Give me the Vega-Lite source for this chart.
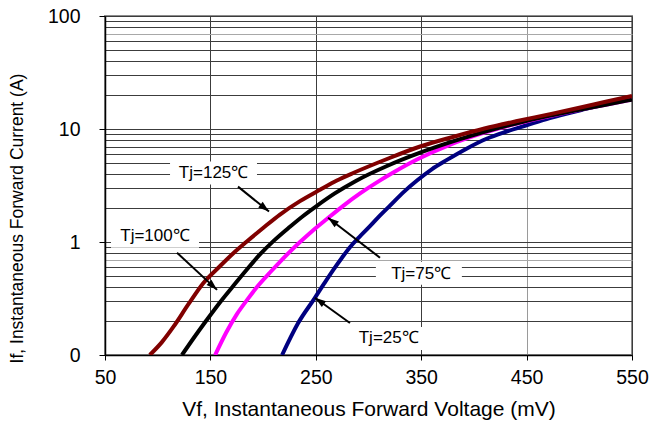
{
  "$schema": "https://vega.github.io/schema/vega-lite/v6.json",
  "width": 527,
  "height": 339,
  "autosize": "none",
  "padding": {"left": 105, "top": 16, "right": 18, "bottom": 78},
  "background": "white",
  "config": {
    "font": "Arial",
    "view": {"stroke": "#8c8c8c", "strokeWidth": 2},
    "axis": {"labelFont": "Arial", "titleFont": "Arial", "labelColor": "black", "titleColor": "black", "titleFontWeight": "normal"}
  },
  "datasets": {
    "curves": [
      {"series": "Tj=25℃", "vf": 218, "cur": 0.1},
      {"series": "Tj=25℃", "vf": 233, "cur": 0.19},
      {"series": "Tj=25℃", "vf": 249, "cur": 0.319},
      {"series": "Tj=25℃", "vf": 258, "cur": 0.43},
      {"series": "Tj=25℃", "vf": 266.6, "cur": 0.567},
      {"series": "Tj=25℃", "vf": 275, "cur": 0.73},
      {"series": "Tj=25℃", "vf": 282.4, "cur": 0.9},
      {"series": "Tj=25℃", "vf": 291, "cur": 1.1},
      {"series": "Tj=25℃", "vf": 301.4, "cur": 1.38},
      {"series": "Tj=25℃", "vf": 311, "cur": 1.72},
      {"series": "Tj=25℃", "vf": 320.4, "cur": 2.1},
      {"series": "Tj=25℃", "vf": 333, "cur": 2.75},
      {"series": "Tj=25℃", "vf": 346, "cur": 3.5},
      {"series": "Tj=25℃", "vf": 360, "cur": 4.4},
      {"series": "Tj=25℃", "vf": 374, "cur": 5.3},
      {"series": "Tj=25℃", "vf": 393, "cur": 6.7},
      {"series": "Tj=25℃", "vf": 412, "cur": 8.2},
      {"series": "Tj=25℃", "vf": 431, "cur": 9.5},
      {"series": "Tj=25℃", "vf": 450, "cur": 10.8},
      {"series": "Tj=25℃", "vf": 472, "cur": 12.5},
      {"series": "Tj=25℃", "vf": 504, "cur": 14.9},
      {"series": "Tj=25℃", "vf": 527, "cur": 16.7},
      {"series": "Tj=25℃", "vf": 550, "cur": 18.5},
      {"series": "Tj=75℃", "vf": 154.5, "cur": 0.1},
      {"series": "Tj=75℃", "vf": 165, "cur": 0.158},
      {"series": "Tj=75℃", "vf": 175, "cur": 0.229},
      {"series": "Tj=75℃", "vf": 185, "cur": 0.309},
      {"series": "Tj=75℃", "vf": 194, "cur": 0.398},
      {"series": "Tj=75℃", "vf": 206.5, "cur": 0.537},
      {"series": "Tj=75℃", "vf": 216, "cur": 0.668},
      {"series": "Tj=75℃", "vf": 225.5, "cur": 0.822},
      {"series": "Tj=75℃", "vf": 235, "cur": 1.0},
      {"series": "Tj=75℃", "vf": 247, "cur": 1.26},
      {"series": "Tj=75℃", "vf": 260.5, "cur": 1.6},
      {"series": "Tj=75℃", "vf": 276, "cur": 2.09},
      {"series": "Tj=75℃", "vf": 292, "cur": 2.69},
      {"series": "Tj=75℃", "vf": 311, "cur": 3.51},
      {"series": "Tj=75℃", "vf": 323.5, "cur": 4.12},
      {"series": "Tj=75℃", "vf": 346, "cur": 5.37},
      {"series": "Tj=75℃", "vf": 377, "cur": 7.24},
      {"series": "Tj=75℃", "vf": 409, "cur": 9.23},
      {"series": "Tj=75℃", "vf": 440, "cur": 11.1},
      {"series": "Tj=75℃", "vf": 470, "cur": 12.9},
      {"series": "Tj=75℃", "vf": 500, "cur": 14.8},
      {"series": "Tj=75℃", "vf": 525, "cur": 16.4},
      {"series": "Tj=75℃", "vf": 550, "cur": 18.2},
      {"series": "Tj=100℃", "vf": 123, "cur": 0.1},
      {"series": "Tj=100℃", "vf": 135, "cur": 0.145},
      {"series": "Tj=100℃", "vf": 146.5, "cur": 0.204},
      {"series": "Tj=100℃", "vf": 159, "cur": 0.292},
      {"series": "Tj=100℃", "vf": 172, "cur": 0.412},
      {"series": "Tj=100℃", "vf": 184, "cur": 0.562},
      {"series": "Tj=100℃", "vf": 197, "cur": 0.776},
      {"series": "Tj=100℃", "vf": 210, "cur": 1.023},
      {"series": "Tj=100℃", "vf": 225.5, "cur": 1.365},
      {"series": "Tj=100℃", "vf": 238, "cur": 1.7},
      {"series": "Tj=100℃", "vf": 251, "cur": 2.09},
      {"series": "Tj=100℃", "vf": 268, "cur": 2.69},
      {"series": "Tj=100℃", "vf": 288, "cur": 3.47},
      {"series": "Tj=100℃", "vf": 317, "cur": 4.68},
      {"series": "Tj=100℃", "vf": 349, "cur": 6.17},
      {"series": "Tj=100℃", "vf": 380, "cur": 7.76},
      {"series": "Tj=100℃", "vf": 410, "cur": 9.44},
      {"series": "Tj=100℃", "vf": 440, "cur": 11.2},
      {"series": "Tj=100℃", "vf": 470, "cur": 13.0},
      {"series": "Tj=100℃", "vf": 500, "cur": 14.8},
      {"series": "Tj=100℃", "vf": 525, "cur": 16.4},
      {"series": "Tj=100℃", "vf": 550, "cur": 18.2},
      {"series": "Tj=125℃", "vf": 92.5, "cur": 0.1},
      {"series": "Tj=125℃", "vf": 104, "cur": 0.13},
      {"series": "Tj=125℃", "vf": 115, "cur": 0.178},
      {"series": "Tj=125℃", "vf": 129, "cur": 0.28},
      {"series": "Tj=125℃", "vf": 143, "cur": 0.43},
      {"series": "Tj=125℃", "vf": 159, "cur": 0.61},
      {"series": "Tj=125℃", "vf": 172, "cur": 0.8},
      {"series": "Tj=125℃", "vf": 184, "cur": 1.0},
      {"series": "Tj=125℃", "vf": 200, "cur": 1.33},
      {"series": "Tj=125℃", "vf": 216, "cur": 1.75},
      {"series": "Tj=125℃", "vf": 235, "cur": 2.3},
      {"series": "Tj=125℃", "vf": 254, "cur": 2.9},
      {"series": "Tj=125℃", "vf": 270, "cur": 3.5},
      {"series": "Tj=125℃", "vf": 286, "cur": 4.1},
      {"series": "Tj=125℃", "vf": 317, "cur": 5.4},
      {"series": "Tj=125℃", "vf": 349, "cur": 7.0},
      {"series": "Tj=125℃", "vf": 380, "cur": 8.5},
      {"series": "Tj=125℃", "vf": 410, "cur": 10.1},
      {"series": "Tj=125℃", "vf": 440, "cur": 11.7},
      {"series": "Tj=125℃", "vf": 470, "cur": 13.4},
      {"series": "Tj=125℃", "vf": 500, "cur": 15.4},
      {"series": "Tj=125℃", "vf": 525, "cur": 17.4},
      {"series": "Tj=125℃", "vf": 550, "cur": 19.6}
    ],
    "labels": [
      {"label": "Tj=125℃", "lv": 153, "li": 4.09, "bx1": 111.7, "bx2": 194.2, "by1": 3.22, "by2": 5.16, "tv": 176.2, "ti": 3.09, "hv": 205.6, "hi": 1.86},
      {"label": "Tj=100℃", "lv": 97.4, "li": 1.12, "bx1": 55.7, "bx2": 139.2, "by1": 0.89, "by2": 1.395, "tv": 118.3, "ti": 0.804, "hv": 156.3, "hi": 0.377},
      {"label": "Tj=75℃", "lv": 350, "li": 0.524, "bx1": 307, "bx2": 388.6, "by1": 0.418, "by2": 0.668, "tv": 310.9, "ti": 0.726, "hv": 261.6, "hi": 1.64},
      {"label": "Tj=25℃", "lv": 319.2, "li": 0.141, "bx1": 282.4, "bx2": 356.4, "by1": 0.111, "by2": 0.177, "tv": 282.4, "ti": 0.192, "hv": 249.2, "hi": 0.321}
    ]
  },
  "layer": [
    {
      "data": {"name": "labels"},
      "mark": {"type": "rect", "fill": "white"},
      "encoding": {
        "x": {
          "field": "bx1", "type": "quantitative",
          "scale": {"domain": [50, 550], "nice": false, "zero": false},
          "axis": {
            "values": [50, 150, 250, 350, 450, 550],
            "title": "Vf, Instantaneous Forward  Voltage (mV)",
            "titleFontSize": 21,
            "titlePadding": 12,
            "labelFontSize": 19.5,
            "labelPadding": 8,
            "tickSize": 5,
            "tickColor": "black",
            "domainColor": "black",
            "domainWidth": 1.5,
            "grid": true,
            "gridColor": {"condition": {"test": "datum.value == 450", "value": "#9a9a9a"}, "value": "#3c3c3c"},
            "gridWidth": 1,
            "labelFlush": false,
            "labelOverlap": false
          }
        },
        "x2": {"field": "bx2"},
        "y": {
          "field": "by1", "type": "quantitative",
          "scale": {"type": "log", "domain": [0.1, 100], "nice": false},
          "axis": {
            "values": [0.1, 0.2, 0.3, 0.4, 0.5, 0.6, 0.7, 0.8, 0.9, 1, 2, 3, 4, 5, 6, 7, 8, 9, 10, 20, 30, 40, 50, 60, 70, 80, 90, 100],
            "labelExpr": "datum.value == 0.1 ? '0' : datum.value == 1 ? '1' : datum.value == 10 ? '10' : datum.value == 100 ? '100' : ''",
            "labelFontSize": 19.5,
            "labelPadding": 19,
            "labelOverlap": false,
            "labelFlush": false,
            "tickSize": 6,
            "tickColor": "black",
            "tickOpacity": {"condition": {"test": "indexof([0.1, 1, 10, 100], datum.value) >= 0", "value": 1}, "value": 0},
            "domainColor": "black",
            "domainWidth": 1.5,
            "grid": true,
            "gridColor": {"condition": {"test": "datum.value == 0.7 || datum.value == 70", "value": "#a8a8a8"}, "value": "#3c3c3c"},
            "gridWidth": 1,
            "title": "If, Instantaneous  Forward Current (A)",
            "titleFontSize": 17.5,
            "titleAngle": -90,
            "titleX": -88,
            "titleY": 202,
            "titleAlign": "center",
            "titleBaseline": "middle"
          }
        },
        "y2": {"field": "by2"}
      }
    },
    {
      "data": {"name": "curves"},
      "mark": {"type": "line", "strokeWidth": 4, "interpolate": "monotone", "clip": true},
      "encoding": {
        "x": {"field": "vf", "type": "quantitative"},
        "y": {"field": "cur", "type": "quantitative"},
        "color": {
          "field": "series", "type": "nominal",
          "scale": {"domain": ["Tj=25℃", "Tj=75℃", "Tj=100℃", "Tj=125℃"], "range": ["#000080", "#ff00ff", "#000000", "#800000"]},
          "legend": null
        }
      }
    },
    {
      "data": {"name": "labels"},
      "mark": {"type": "rule", "color": "black", "strokeWidth": 2},
      "encoding": {
        "x": {"field": "tv", "type": "quantitative"},
        "y": {"field": "ti", "type": "quantitative"},
        "x2": {"field": "hv"},
        "y2": {"field": "hi"}
      }
    },
    {
      "data": {"name": "labels"},
      "transform": [{"filter": "datum.label == 'Tj=125℃'"}],
      "mark": {"type": "point", "shape": "M0,0L-0.65,2L0.65,2Z", "filled": true, "color": "black", "size": 121, "opacity": 1, "angle": 129},
      "encoding": {"x": {"field": "hv", "type": "quantitative"}, "y": {"field": "hi", "type": "quantitative"}}
    },
    {
      "data": {"name": "labels"},
      "transform": [{"filter": "datum.label == 'Tj=100℃'"}],
      "mark": {"type": "point", "shape": "M0,0L-0.65,2L0.65,2Z", "filled": true, "color": "black", "size": 121, "opacity": 1, "angle": 133},
      "encoding": {"x": {"field": "hv", "type": "quantitative"}, "y": {"field": "hi", "type": "quantitative"}}
    },
    {
      "data": {"name": "labels"},
      "transform": [{"filter": "datum.label == 'Tj=75℃'"}],
      "mark": {"type": "point", "shape": "M0,0L-0.65,2L0.65,2Z", "filled": true, "color": "black", "size": 121, "opacity": 1, "angle": 307.6},
      "encoding": {"x": {"field": "hv", "type": "quantitative"}, "y": {"field": "hi", "type": "quantitative"}}
    },
    {
      "data": {"name": "labels"},
      "transform": [{"filter": "datum.label == 'Tj=25℃'"}],
      "mark": {"type": "point", "shape": "M0,0L-0.65,2L0.65,2Z", "filled": true, "color": "black", "size": 121, "opacity": 1, "angle": 305.5},
      "encoding": {"x": {"field": "hv", "type": "quantitative"}, "y": {"field": "hi", "type": "quantitative"}}
    },
    {
      "data": {"name": "labels"},
      "mark": {"type": "text", "font": "Arial", "fontSize": 17, "color": "black", "align": "center", "baseline": "middle"},
      "encoding": {
        "x": {"field": "lv", "type": "quantitative"},
        "y": {"field": "li", "type": "quantitative"},
        "text": {"field": "label"}
      }
    }
  ]
}
